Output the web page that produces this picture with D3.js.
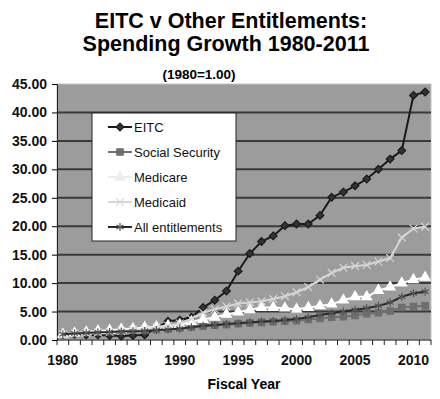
<!DOCTYPE html>
<html>
<head>
<meta charset="utf-8">
<script src="https://cdn.jsdelivr.net/npm/d3@7"></script>
<style>
  body { margin: 0; background: #fff; }
  text { font-family: "Liberation Sans", Arial, sans-serif; }
</style>
</head>
<body>
<script>
// données (1980 = 1.00)
const years = d3.range(1980, 2012)
const eitc = [1.0, 1.0, 0.9, 0.9, 0.8, 0.7, 0.8, 0.9, 2.1, 3.3, 3.5, 4.0, 5.7, 7.0, 8.6, 12.1,
        15.2, 17.3, 18.3, 20.1, 20.4, 20.4, 21.9, 25.1, 26.0, 27.1, 28.3, 30.0, 31.8, 33.3, 43.0, 43.6]
const socialSecurity = [1.0, 1.2, 1.3, 1.4, 1.5, 1.6, 1.7, 1.75, 1.85, 1.95, 2.1, 2.3, 2.4, 2.6, 2.7, 2.85,
        3.0, 3.1, 3.2, 3.3, 3.4, 3.6, 3.8, 4.0, 4.1, 4.3, 4.6, 4.8, 5.1, 5.7, 5.9, 6.0]
const medicare = [1.0, 1.2, 1.4, 1.6, 1.7, 1.9, 2.0, 2.2, 2.3, 2.5, 2.7, 3.2, 3.6, 4.0, 4.5, 4.9,
        5.3, 5.7, 5.7, 5.6, 5.4, 5.7, 6.0, 6.3, 7.0, 7.6, 7.6, 8.7, 9.3, 10.0, 10.6, 11.0]
const medicaid = [1.0, 1.2, 1.25, 1.35, 1.45, 1.6, 1.8, 1.95, 2.2, 2.5, 2.9, 3.7, 4.8, 5.4, 5.9, 6.4,
        6.6, 6.8, 7.2, 7.7, 8.4, 9.3, 10.6, 11.8, 12.7, 13.0, 13.2, 13.8, 14.4, 18.0, 19.6, 19.9]
const allEntitlements = [1.0, 1.15, 1.25, 1.35, 1.4, 1.5, 1.55, 1.6, 1.75, 1.85, 2.0, 2.25, 2.5, 2.65, 2.8, 2.95,
        3.1, 3.25, 3.35, 3.5, 3.7, 4.0, 4.4, 4.7, 5.0, 5.3, 5.6, 6.0, 6.6, 7.6, 8.2, 8.5]
const seriesNames = ["EITC", "Social Security", "Medicare", "Medicaid", "All entitlements"]
const yTicks = [0, 5, 10, 15, 20, 25, 30, 35, 40, 45]
const xLabels = [1980, 1985, 1990, 1995, 2000, 2005, 2010]

const series = [
  { name: seriesNames[0], values: eitc, line: "#1a1a1a", fill: "#333", stroke: "#1a1a1a", sym: d3.symbolDiamond2, size: 38 },
  { name: seriesNames[1], values: socialSecurity, line: "#707070", fill: "#6e6e6e", stroke: "#6e6e6e", sym: d3.symbolSquare, size: 40 },
  { name: seriesNames[2], values: medicare, line: "#ffffff", fill: "#ffffff", stroke: "#ffffff", sym: d3.symbolTriangle, size: 42 },
  { name: seriesNames[3], values: medicaid, line: "#d6d6d6", fill: "none", stroke: "#d6d6d6", sym: d3.symbolTimes, size: 40 },
  { name: seriesNames[4], values: allEntitlements, line: "#2a2a2a", fill: "none", stroke: "#555", sym: d3.symbolAsterisk, size: 45 }
]

const W = 440, H = 399
const mLeft = 57, mRight = 431, mTop = 84, mBottom = 340

const svg = d3.select("body")
        .append("svg")
        .attr("width", W)
        .attr("height", H)

const x = d3.scaleBand().domain(years).range([mLeft, mRight])
const y = d3.scaleLinear().domain([0, 45]).range([mBottom, mTop])

//Titres
svg.append("text")
        .attr("x", 231).attr("y", 28)
        .attr("text-anchor", "middle")
        .style("font-size", "21.5px").style("font-weight", "bold")
        .text("EITC v Other Entitlements:")
svg.append("text")
        .attr("x", 226).attr("y", 51)
        .attr("text-anchor", "middle")
        .style("font-size", "21.5px").style("font-weight", "bold")
        .text("Spending Growth 1980-2011")
svg.append("text")
        .attr("x", 199).attr("y", 79)
        .attr("text-anchor", "middle")
        .style("font-size", "13.5px").style("font-weight", "bold")
        .text("(1980=1.00)")

//Zone de tracé
svg.append("rect")
        .attr("x", mLeft).attr("y", mTop)
        .attr("width", mRight - mLeft).attr("height", mBottom - mTop)
        .attr("fill", "#9c9c9c")
        .attr("stroke", "#c4c4c4")

//Grille
svg.append("g")
        .selectAll("line")
        .data(yTicks.filter(d => d > 0 && d < 45))
        .enter()
        .append("line")
                .attr("x1", mLeft).attr("x2", mRight)
                .attr("y1", d => y(d)).attr("y2", d => y(d))
                .attr("stroke", "#3a3a3a")
                .attr("stroke-width", 2)

//Axe Y
const yAxis = svg.append("g")
        .attr("transform", `translate(${mLeft},0)`)
        .call(d3.axisLeft(y).tickValues(yTicks).tickFormat(d3.format(".2f")).tickSize(5).tickPadding(5))
yAxis.select(".domain").attr("stroke", "#222")
yAxis.selectAll("text")
        .style("font-size", "14px").style("font-weight", "bold")
        .attr("fill", "#111")

//Axe X : graduations entre les catégories
const xTickPos = years.map(d => x(d)).concat([x(years[years.length - 1]) + x.bandwidth()])
svg.append("line")
        .attr("x1", mLeft).attr("x2", mRight)
        .attr("y1", mBottom).attr("y2", mBottom)
        .attr("stroke", "#222")
svg.append("g")
        .selectAll("line")
        .data(xTickPos)
        .enter()
        .append("line")
                .attr("x1", d => d).attr("x2", d => d)
                .attr("y1", mBottom).attr("y2", mBottom + 5)
                .attr("stroke", "#222")

const xAxis = svg.append("g")
        .attr("transform", `translate(0,${mBottom})`)
        .call(d3.axisBottom(x).tickValues(xLabels).tickSize(0).tickPadding(15))
xAxis.select(".domain").remove()
xAxis.selectAll("text")
        .style("font-size", "14px").style("font-weight", "bold")
        .attr("fill", "#111")

svg.append("text")
        .attr("x", 244).attr("y", 389)
        .attr("text-anchor", "middle")
        .style("font-size", "14px").style("font-weight", "bold")
        .text("Fiscal Year")

//Séries
const cx = d => x(d) + x.bandwidth() / 2
const line = d3.line()
        .x(d => cx(d[0]))
        .y(d => y(d[1]))

series.forEach(s => {
        const pts = years.map((yr, i) => [yr, s.values[i]])
        svg.append("path")
                .datum(pts)
                .attr("fill", "none")
                .attr("stroke", s.line)
                .attr("stroke-width", 2)
                .attr("d", line)
        svg.append("g")
                .selectAll("path")
                .data(pts)
                .enter()
                .append("path")
                        .attr("transform", d => `translate(${cx(d[0])},${y(d[1])})`)
                        .attr("d", d3.symbol(s.sym, s.size))
                        .attr("fill", s.fill)
                        .attr("stroke", s.stroke)
                        .attr("stroke-width", 1.2)
})

//Légende
const legend = svg.append("g")
legend.append("rect")
        .attr("x", 92).attr("y", 113)
        .attr("width", 144).attr("height", 128)
        .attr("fill", "#fff")
        .attr("stroke", "#222")

const legendItems = legend.selectAll("g.item")
        .data(series)
        .enter()
        .append("g")
                .attr("transform", (d, i) => `translate(0,${127 + i * 25})`)

legendItems.append("line")
        .attr("x1", 108).attr("x2", 132)
        .attr("stroke", d => d.name === "Medicare" ? "#eeeeee" : d.line)
        .attr("stroke-width", 2)
legendItems.append("path")
        .attr("transform", "translate(120,0)")
        .attr("d", d => d3.symbol(d.sym, d.size)())
        .attr("fill", d => d.name === "Medicare" ? "#eeeeee" : d.fill)
        .attr("stroke", d => d.name === "Medicare" ? "#eeeeee" : d.stroke)
        .attr("stroke-width", 1.2)
legendItems.append("text")
        .attr("x", 134).attr("y", 5)
        .style("font-size", "13px")
        .attr("fill", "#111")
        .text(d => d.name)
</script>
</body>
</html>
